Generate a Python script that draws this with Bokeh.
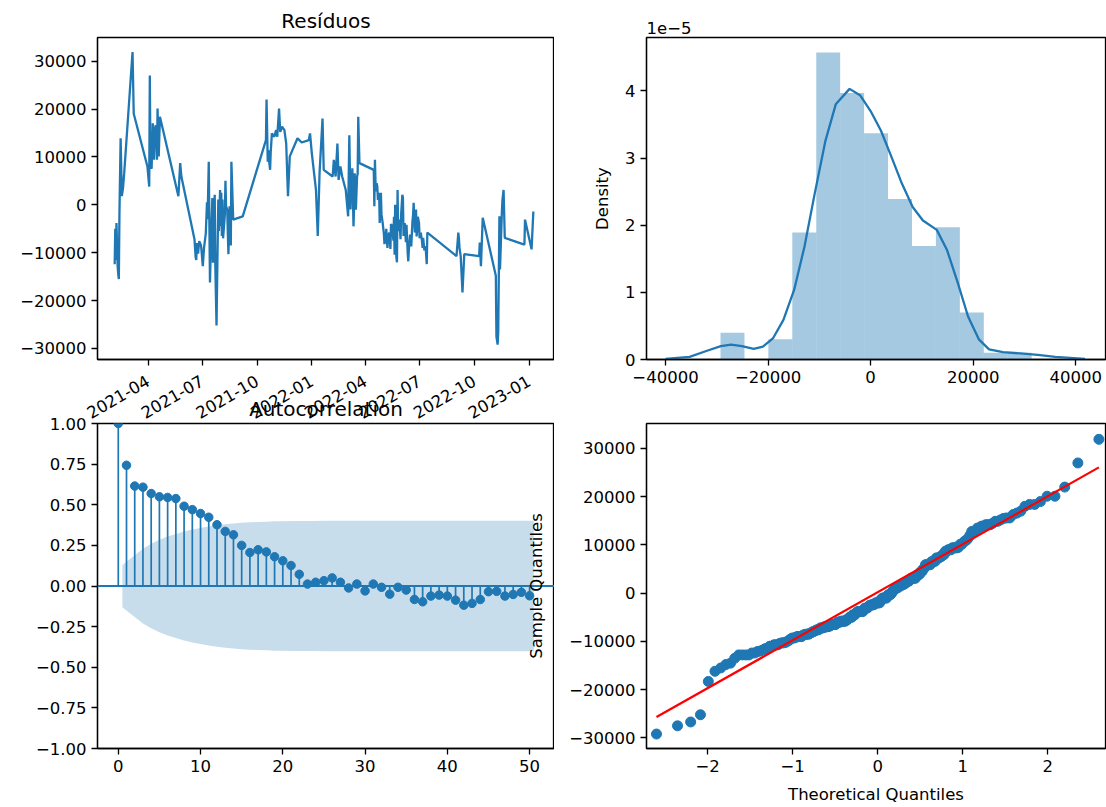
import math
from datetime import datetime
from statistics import NormalDist

import pandas as pd
from bokeh.plotting import figure
from bokeh.layouts import column, row
from bokeh.models import (Range1d, FixedTicker, DatetimeTickFormatter,
                          CustomJSTickFormatter, Title, Span)
from bokeh.embed import file_html
from bokeh.resources import INLINE

# ---------------- data ----------------
residual_dates = [
    "2021-02-04", "2021-02-05", "2021-02-06", "2021-02-07", "2021-02-09", "2021-02-10", "2021-02-11", "2021-02-12",
    "2021-02-14", "2021-02-16", "2021-02-18", "2021-02-20", "2021-03-06", "2021-03-08", "2021-03-31", "2021-04-03",
    "2021-04-04", "2021-04-05", "2021-04-06", "2021-04-07", "2021-04-09", "2021-04-10", "2021-04-11", "2021-04-12",
    "2021-04-14", "2021-04-16", "2021-04-17", "2021-04-19", "2021-04-21", "2021-05-22", "2021-05-25", "2021-05-27",
    "2021-06-18", "2021-06-20", "2021-06-21", "2021-06-22", "2021-06-24", "2021-06-26", "2021-06-29", "2021-06-30",
    "2021-07-02", "2021-07-04", "2021-07-07", "2021-07-09", "2021-07-10", "2021-07-12", "2021-07-14", "2021-07-16",
    "2021-07-18", "2021-07-19", "2021-07-20", "2021-07-21", "2021-07-22", "2021-07-23", "2021-07-25", "2021-07-28",
    "2021-07-29", "2021-07-31", "2021-08-01", "2021-08-02", "2021-08-03", "2021-08-04", "2021-08-05", "2021-08-07",
    "2021-08-08", "2021-08-09", "2021-08-10", "2021-08-12", "2021-08-13", "2021-08-14", "2021-08-16", "2021-08-17",
    "2021-08-18", "2021-08-19", "2021-08-22", "2021-09-07", "2021-10-16", "2021-10-17", "2021-10-19", "2021-10-20",
    "2021-10-21", "2021-10-23", "2021-10-24", "2021-10-26", "2021-10-30", "2021-11-02", "2021-11-04", "2021-11-07",
    "2021-11-09", "2021-11-12", "2021-11-16", "2021-11-19", "2021-11-22", "2021-11-25", "2021-12-08", "2021-12-15",
    "2021-12-27", "2021-12-29", "2022-01-01", "2022-01-08", "2022-01-11", "2022-01-14", "2022-01-19", "2022-01-21",
    "2022-02-05", "2022-02-07", "2022-02-10", "2022-02-13", "2022-02-15", "2022-02-18", "2022-02-21", "2022-02-27",
    "2022-03-03", "2022-03-05", "2022-03-07", "2022-03-08", "2022-03-09", "2022-03-10", "2022-03-12", "2022-03-13",
    "2022-03-14", "2022-03-16", "2022-03-18", "2022-03-19", "2022-03-20", "2022-03-22", "2022-04-15", "2022-04-16",
    "2022-04-17", "2022-04-18", "2022-04-19", "2022-04-20", "2022-04-21", "2022-04-22", "2022-04-24", "2022-04-25",
    "2022-04-26", "2022-04-27", "2022-04-28", "2022-04-30", "2022-05-02", "2022-05-03", "2022-05-05", "2022-05-06",
    "2022-05-08", "2022-05-09", "2022-05-11", "2022-05-13", "2022-05-14", "2022-05-16", "2022-05-18", "2022-05-19",
    "2022-05-20", "2022-05-21", "2022-05-23", "2022-05-24", "2022-05-25", "2022-05-26", "2022-05-28", "2022-05-30",
    "2022-05-31", "2022-06-02", "2022-06-03", "2022-06-04", "2022-06-06", "2022-06-08", "2022-06-09", "2022-06-11",
    "2022-06-12", "2022-06-13", "2022-06-15", "2022-06-17", "2022-06-19", "2022-06-20", "2022-06-21", "2022-06-23",
    "2022-06-25", "2022-06-26", "2022-06-27", "2022-06-28", "2022-06-30", "2022-07-01", "2022-07-03", "2022-07-05",
    "2022-07-06", "2022-07-07", "2022-07-09", "2022-07-11", "2022-07-13", "2022-07-14", "2022-09-01", "2022-09-04",
    "2022-09-05", "2022-09-06", "2022-09-08", "2022-09-11", "2022-09-14", "2022-10-09", "2022-10-10", "2022-10-12",
    "2022-10-15", "2022-11-06", "2022-11-07", "2022-11-09", "2022-11-10", "2022-11-12", "2022-11-13", "2022-11-16",
    "2022-11-17", "2022-11-19", "2022-11-21", "2022-12-24", "2022-12-25", "2023-01-05", "2023-01-08",
]
residual_values = [
    -12400, -5000, -11500, -3800, -12800, -14500, -15500, -2000,
    13900, 1800, 3500, 6600, 31900, 19000, 8000, 3800,
    27000, 10500, 14200, 7500, 17000, 12000, 9400, 15500,
    16600, 9400, 20100, 10100, 18400, 1800, 8700, 5900,
    -7200, -11000, -11500, -8000, -10200, -7600, -8500, -9800,
    -12800, -9000, -6000, 500, -3000, 9000, -16200, -6500,
    1400, -12100, -8500, -1000, 2100, -12800, -25200, 1100,
    -5500, 3100, -4500, 2500, -6500, 1100, -7000, -3800,
    -2000, 5000, -300, -1000, -6000, -10300, -300, -5000,
    -8500, 9000, -3100, -2400, 13500, 22000, 9000, 11400,
    9500, 7300, 11000, 14900, 14200, 15600, 14200, 20100,
    15200, 16300, 15600, 12800, 1800, 10100, 13900, 13000,
    13500, 14900, 10800, 3100, -6500, 6600, 18000, 7300,
    5900, 9400, 5900, 12800, 5200, 8000, 5900, 3100,
    -2400, 14500, -1000, 4000, 1500, 7600, -4500, -500,
    6600, -1000, 5900, 6500, 18400, 8700, 7300, -300,
    9400, 4500, 2800, 4500, 3800, 1000, 2500, -3800,
    -1200, 2500, -2000, -3800, -6000, -8200, -7200, -5000,
    -9000, -6800, -5800, -9200, -4000, -4500, -7500, -2500,
    -10400, 0, -11000, -12000, 3100, -5500, -3100, -7200,
    -2000, 2100, 1500, -6500, -3800, -7800, -4200, -10000,
    -11800, -9300, -6200, -8700, -3400, -2200, 400, -5800,
    -1000, -6600, -5200, -2500, -3800, -7000, -5800, -7600,
    -9000, -6900, -9500, -8600, -12400, -5800, -10700, -5800,
    -7000, -9000, -10700, -18300, -10300, -10700, -7900, -12800,
    -2700, -14800, -27500, -29200, -26700, -2400, -13500, -2000,
    800, 3100, -6900, -8300, -3100, -9300, -1400,
]
date_ticks = ["2021-04-01", "2021-07-01", "2021-10-01", "2022-01-01",
              "2022-04-01", "2022-07-01", "2022-10-01", "2023-01-01"]

# histogram of residuals (density, in units of 1e-5)
hist_bin_edges = [-29270, -24600, -19940, -15270, -10600, -5940, -1270,
                  3400, 8070, 12730, 17400, 22070, 26730, 31400]
hist_density = [0.40, 0.0, 0.30, 1.89, 4.57, 3.97, 3.37, 2.39, 1.69, 1.97, 0.70, 0.10, 0.10]

# kde curve (density in units of 1e-5)
kde_x = [-40000, -35300, -31900, -29200, -27200, -25100, -22800, -21000, -19000, -17000,
         -14900, -12900, -10900, -8800, -6800, -4100, -2000, 0, 2000, 4100,
         6100, 8200, 10200, 12900, 14900, 17000, 19000, 21100, 23100, 25800,
         29200, 32600, 36000, 41800]
kde_y = [0.01, 0.04, 0.13, 0.20, 0.22, 0.20, 0.16, 0.19, 0.32, 0.59,
         1.04, 1.68, 2.47, 3.26, 3.80, 4.03, 3.93, 3.70, 3.41, 3.01,
         2.62, 2.27, 2.07, 1.93, 1.63, 1.14, 0.64, 0.30, 0.15, 0.11,
         0.09, 0.07, 0.04, 0.01]

# autocorrelation
acf_lags = list(range(51))
acf_values = [1.0, 0.743, 0.615, 0.608, 0.569, 0.549, 0.545, 0.538, 0.491, 0.470,
              0.446, 0.423, 0.377, 0.336, 0.315, 0.250, 0.206, 0.223, 0.210, 0.180,
              0.155, 0.126, 0.072, 0.012, 0.023, 0.033, 0.050, 0.023, -0.012, 0.012,
              -0.030, 0.012, -0.008, -0.050, -0.008, -0.025, -0.083, -0.097, -0.062, -0.056,
              -0.062, -0.087, -0.118, -0.107, -0.083, -0.035, -0.033, -0.062, -0.052, -0.039,
              -0.060]
acf_conf = [0.130, 0.190, 0.230, 0.260, 0.285, 0.305, 0.320, 0.335, 0.347, 0.357,
            0.366, 0.374, 0.380, 0.385, 0.389, 0.392, 0.394, 0.396, 0.398, 0.399,
            0.400, 0.400, 0.400, 0.400, 0.401, 0.401, 0.401, 0.401, 0.401, 0.401,
            0.401, 0.401, 0.401, 0.401, 0.401, 0.402, 0.402, 0.402, 0.402, 0.402,
            0.402, 0.402, 0.402, 0.402, 0.402, 0.402, 0.402, 0.402, 0.402, 0.402]

# QQ reference line (standardized)
qq_line_slope = 9945
qq_line_intercept = 200

# ---------------- styling helpers ----------------
FONT = "DejaVu Sans"
BLUE = "#1f77b4"
TICK = "16.5px"
MINUS = CustomJSTickFormatter(code="return String(tick).replace('-', '\u2212');")


def style(p):
    p.grid.visible = False
    p.outline_line_color = "black"
    p.outline_line_width = 1.3
    p.outline_line_alpha = 1.0
    for ax in p.axis:
        ax.axis_line_color = "black"
        ax.axis_line_width = 1.3
        ax.major_tick_out = 6
        ax.major_tick_in = 0
        ax.major_tick_line_width = 1.3
        ax.minor_tick_out = 0
        ax.minor_tick_in = 0
        ax.major_label_text_font = FONT
        ax.major_label_text_font_size = TICK
        ax.major_label_text_color = "black"
        ax.major_label_standoff = 5
        ax.axis_label_text_font = FONT
        ax.axis_label_text_font_size = TICK
        ax.axis_label_text_font_style = "normal"
        ax.axis_label_text_color = "black"
    p.title.text_font = FONT
    p.title.text_font_size = "20px"
    p.title.text_font_style = "normal"
    p.title.text_color = "black"
    p.title.align = "center"


# ---------------- top-left: residuals ----------------
dates = pd.to_datetime(residual_dates)
p1 = figure(x_axis_type="datetime", title="Resíduos",
            frame_width=457, frame_height=322,
            min_border_left=97, min_border_right=0, min_border_top=37, min_border_bottom=74,
            x_range=Range1d(datetime(2021, 1, 6, 4), datetime(2023, 2, 12, 12)),
            y_range=Range1d(-32300, 34930),
            toolbar_location=None, output_backend="svg")
p1.line(dates, residual_values, line_color=BLUE, line_width=2.3)
style(p1)
p1.title.standoff = 9
p1.xaxis.ticker = FixedTicker(ticks=[pd.Timestamp(d).value // 10**6 for d in date_ticks])
fmt = "%Y-%m"
p1.xaxis.formatter = DatetimeTickFormatter(milliseconds=fmt, seconds=fmt, minsec=fmt, minutes=fmt,
                                           hourmin=fmt, hours=fmt, days=fmt, months=fmt, years=fmt)
p1.xaxis.major_label_orientation = math.pi / 6
p1.xaxis.major_label_standoff = 14
p1.yaxis.ticker = FixedTicker(ticks=[-30000, -20000, -10000, 0, 10000, 20000, 30000])
p1.yaxis.formatter = MINUS

# ---------------- top-right: histogram + kde ----------------
p2 = figure(frame_width=459, frame_height=322,
            min_border_left=92, min_border_right=1, min_border_top=37, min_border_bottom=74,
            x_range=Range1d(-43700, 45800), y_range=Range1d(0, 4.795),
            toolbar_location=None, output_backend="svg")
p2.quad(left=hist_bin_edges[:-1], right=hist_bin_edges[1:], bottom=0, top=hist_density,
        fill_color=BLUE, fill_alpha=0.4, line_color=None)
p2.line(kde_x, kde_y, line_color=BLUE, line_width=2.3)
style(p2)
p2.add_layout(Title(text="1e\u22125", align="left", text_font=FONT, text_font_size=TICK,
                    text_font_style="normal", text_color="black", standoff=8), "above")
p2.xaxis.ticker = FixedTicker(ticks=[-40000, -20000, 0, 20000, 40000])
p2.xaxis.formatter = MINUS
p2.yaxis.ticker = FixedTicker(ticks=[0, 1, 2, 3, 4])
p2.yaxis.axis_label = "Density"
p2.yaxis.axis_label_standoff = 10

# ---------------- bottom-left: ACF ----------------
p3 = figure(title="Autocorrelation", frame_width=457, frame_height=325,
            min_border_left=97, min_border_right=0, min_border_top=43, min_border_bottom=59,
            x_range=Range1d(-2.525, 53.025), y_range=Range1d(-1.0, 1.0),
            toolbar_location=None, output_backend="svg", border_fill_alpha=0)
band_x = [float(l) for l in acf_lags[1:]]
band_x[0] -= 0.5
band_x[-1] += 0.5
p3.varea(x=band_x, y1=[-c for c in acf_conf], y2=acf_conf, fill_color=BLUE, fill_alpha=0.25)
p3.segment(x0=acf_lags, y0=[0] * len(acf_lags), x1=acf_lags, y1=acf_values,
           line_color=BLUE, line_width=1.7)
p3.add_layout(Span(location=0, dimension="width", line_color=BLUE, line_width=1.8))
p3.scatter(acf_lags, acf_values, size=8.5, fill_color=BLUE, line_color=BLUE)
style(p3)
p3.title.standoff = 5
p3.xaxis.ticker = FixedTicker(ticks=[0, 10, 20, 30, 40, 50])
p3.yaxis.ticker = FixedTicker(ticks=[-1.0, -0.75, -0.5, -0.25, 0.0, 0.25, 0.5, 0.75, 1.0])
p3.yaxis.formatter = CustomJSTickFormatter(code="return tick.toFixed(2).replace('-', '\u2212');")

# ---------------- bottom-right: QQ plot ----------------
n = len(residual_values)
nd = NormalDist()
theo_q = [nd.inv_cdf(i / (n + 1)) for i in range(1, n + 1)]
sample_q = sorted(residual_values)

p4 = figure(frame_width=459, frame_height=325,
            min_border_left=122, min_border_right=1, min_border_top=43, min_border_bottom=59,
            x_range=Range1d(-2.72, 2.68), y_range=Range1d(-32200, 35180),
            toolbar_location=None, output_backend="svg", border_fill_alpha=0,
            margin=(0, 0, 0, -30))
p4.scatter(theo_q, sample_q, size=10, fill_color=BLUE, line_color=BLUE)
p4.line([theo_q[0], theo_q[-1]],
        [qq_line_slope * theo_q[0] + qq_line_intercept, qq_line_slope * theo_q[-1] + qq_line_intercept],
        line_color="#ff0000", line_width=2.2)
style(p4)
p4.xaxis.ticker = FixedTicker(ticks=[-2, -1, 0, 1, 2])
p4.xaxis.formatter = MINUS
p4.yaxis.ticker = FixedTicker(ticks=[-30000, -20000, -10000, 0, 10000, 20000, 30000])
p4.yaxis.formatter = MINUS
p4.xaxis.axis_label = "Theoretical Quantiles"
p4.xaxis.axis_label_standoff = 10
p4.yaxis.axis_label = "Sample Quantiles"
p4.yaxis.axis_label_standoff = 20

# top row is 37 + 322 + 74 = 433 px tall; the bottom row starts at y = 380
layout = column(row(p1, p2), row(p3, p4, margin=(-53, 0, 0, 0)))

open("out.html", "w").write(file_html(layout, INLINE))
